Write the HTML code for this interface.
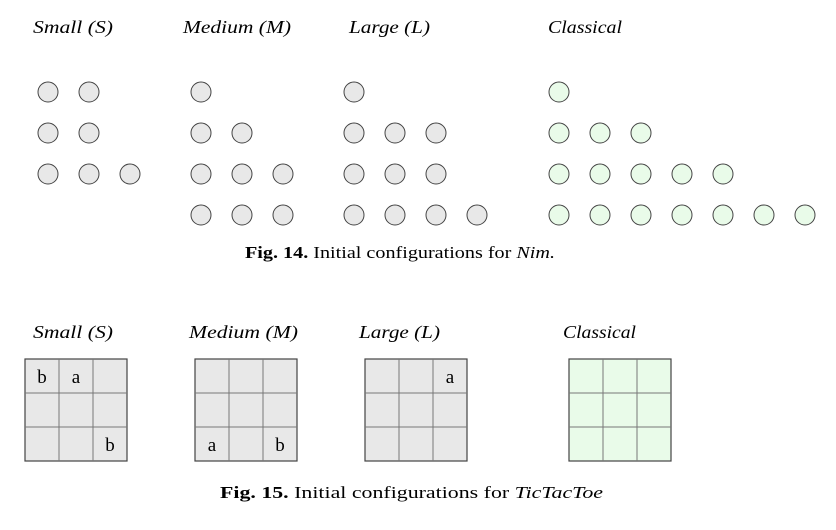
<!DOCTYPE html>
<html><head><meta charset="utf-8"><style>
body{margin:0;background:#fff;width:836px;height:525px;overflow:hidden}
svg text{font-family:"Liberation Serif",serif}
.t{font-style:italic;font-size:18px}
.cap{font-size:17px}
</style></head><body>
<svg width="836" height="525">
<g id="nim"></g>
<g id="ttt"></g>
<text class="cap" x="245" y="258" textLength="310" lengthAdjust="spacingAndGlyphs"><tspan font-weight="bold">Fig. 14.</tspan> Initial configurations for <tspan font-style="italic">Nim.</tspan></text>
<text class="cap" x="220" y="498" textLength="383" lengthAdjust="spacingAndGlyphs"><tspan font-weight="bold">Fig. 15.</tspan> Initial configurations for <tspan font-style="italic">TicTacToe</tspan></text>
</svg>
<script>
const NS='http://www.w3.org/2000/svg';
const titles=['Small (S)','Medium (M)','Large (L)','Classical'];
const nimRows=[[2,2,3],[1,2,3,3],[1,3,3,4],[1,3,5,7]];
const nimX=[48,201,354,559];
const titleX=[33,183,349,548];
const titleW=[80,108,81,74];
const tttX=[25,195,365,569];
const tttTitleX=[33,189,359,563];
const tttTitleW=[80,109,81,73];
const tttMarks=[[[0,0,'b'],[0,1,'a'],[2,2,'b']],[[2,0,'a'],[2,2,'b']],[[0,2,'a']],[]];
function mk(tag,attrs,parent){const e=document.createElementNS(NS,tag);for(const k in attrs)e.setAttribute(k,attrs[k]);parent.appendChild(e);return e;}
const nim=document.getElementById('nim'),ttt=document.getElementById('ttt');
titles.forEach((t,i)=>{
 const green=i===3;
 const tx=mk('text',{x:titleX[i],y:33,class:'t',textLength:titleW[i],lengthAdjust:'spacingAndGlyphs'},nim);tx.textContent=t;
 
 
 nimRows[i].forEach((n,r)=>{for(let c=0;c<n;c++){
  const ci=mk('circle',{cx:nimX[i]+c*41,cy:92+r*41,r:10,fill:green?'#e9fbe9':'#e8e8e8',stroke:'#444','stroke-width':1},nim);
  
  
 }});
 const t2=mk('text',{x:tttTitleX[i],y:338,class:'t',textLength:tttTitleW[i],lengthAdjust:'spacingAndGlyphs'},ttt);t2.textContent=t;
 
 
 const x0=tttX[i],y0=359,s=34;
 const g=mk('g',{},ttt);
 
 
 mk('rect',{x:x0,y:y0,width:3*s,height:3*s,fill:green?'#e9fbe9':'#e8e8e8',stroke:'#444','stroke-width':1.2},g);
 for(let k=1;k<3;k++){
  mk('line',{x1:x0+k*s,y1:y0,x2:x0+k*s,y2:y0+3*s,stroke:'#777'},g);
  mk('line',{x1:x0,y1:y0+k*s,x2:x0+3*s,y2:y0+k*s,stroke:'#777'},g);
 }
 tttMarks[i].forEach(([r,c,ch])=>{
  const m=mk('text',{x:x0+c*s+s/2,y:y0+r*s+24,'text-anchor':'middle','font-size':19},g);m.textContent=ch;
  
  
 });
});
</script>
</body></html>
